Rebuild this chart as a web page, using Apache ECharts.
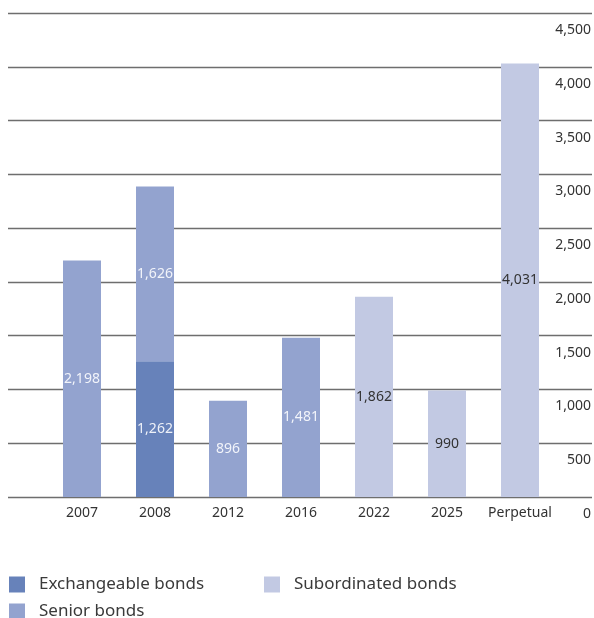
<!DOCTYPE html>
<html>
<head>
<meta charset="utf-8">
<script src="https://cdn.jsdelivr.net/npm/echarts@6/dist/echarts.min.js"></script>
<style>
  html, body { margin: 0; padding: 0; background: #fff; }
  #chart { width: 594px; height: 618px; }
</style>
</head>
<body>
<div id="chart"></div>
<script>
const categories = ['2007', '2008', '2012', '2016', '2022', '2025', 'Perpetual']
const exchangeable = [null, 1262, null, null, null, null, null]
const senior = [2198, 1626, 896, 1481, null, null, null]
const subordinated = [null, null, null, null, 1862, 990, 4031]

const fontFamily = '"Noto Sans", sans-serif'
const fmt = (p) => p.value == null ? '' : Number(p.value).toLocaleString('en-US')

const chart = echarts.init(document.getElementById('chart'))

const barSeries = (name, data, color, labelColor) => ({
  name,
  type: 'bar',
  stack: 'total',
  xAxisIndex: 1,
  yAxisIndex: 1,
  barWidth: 38,
  data,
  itemStyle: { color },
  label: {
    show: true,
    position: 'inside',
    color: labelColor,
    fontSize: 14,
    fontFamily,
    formatter: fmt
  }
})

const legendItem = (name, left, top) => ({
  left, top,
  itemWidth: 16, itemHeight: 16,
  icon: 'rect',
  data: [name],
  textStyle: { fontSize: 17, color: '#3a3a3a', fontFamily, padding: [0, 0, 0, 9] }
})

chart.setOption({
  animation: false,
  grid: [
    { left: 8, right: 2, top: 13, bottom: 121 },
    { left: 45.5, right: 37.5, top: 13, bottom: 121 }
  ],
  legend: [
    legendItem('Exchangeable bonds', 4, 571),
    legendItem('Senior bonds', 4, 598),
    legendItem('Subordinated bonds', 259, 571)
  ],
  xAxis: [
    { type: 'category', gridIndex: 0, data: categories, show: false },
    {
      type: 'category', gridIndex: 1, data: categories,
      axisLine: { show: false },
      axisTick: { show: false },
      axisLabel: { color: '#333', fontSize: 14, fontFamily, margin: 9, interval: 0 }
    }
  ],
  yAxis: [
    {
      type: 'value', gridIndex: 0, position: 'right',
      min: 0, max: 4500, interval: 500,
      axisLine: { show: false },
      axisTick: { show: false },
      splitLine: { lineStyle: { color: '#6e6e6e', width: 1.3 } },
      axisLabel: {
        color: '#333', fontSize: 14, fontFamily,
        align: 'right', verticalAlign: 'top', margin: -1,
        padding: [10, 0, 0, 0],
        formatter: (v) => v.toLocaleString('en-US')
      }
    },
    {
      type: 'value', gridIndex: 1, min: 0, max: 4500, interval: 500, show: false
    }
  ],
  series: [
    barSeries('Exchangeable bonds', exchangeable, '#6782ba', '#eef1f8'),
    barSeries('Senior bonds', senior, '#93a3cf', '#f2f4fa'),
    barSeries('Subordinated bonds', subordinated, '#c2c9e3', '#333')
  ]
})
</script>
</body>
</html>
